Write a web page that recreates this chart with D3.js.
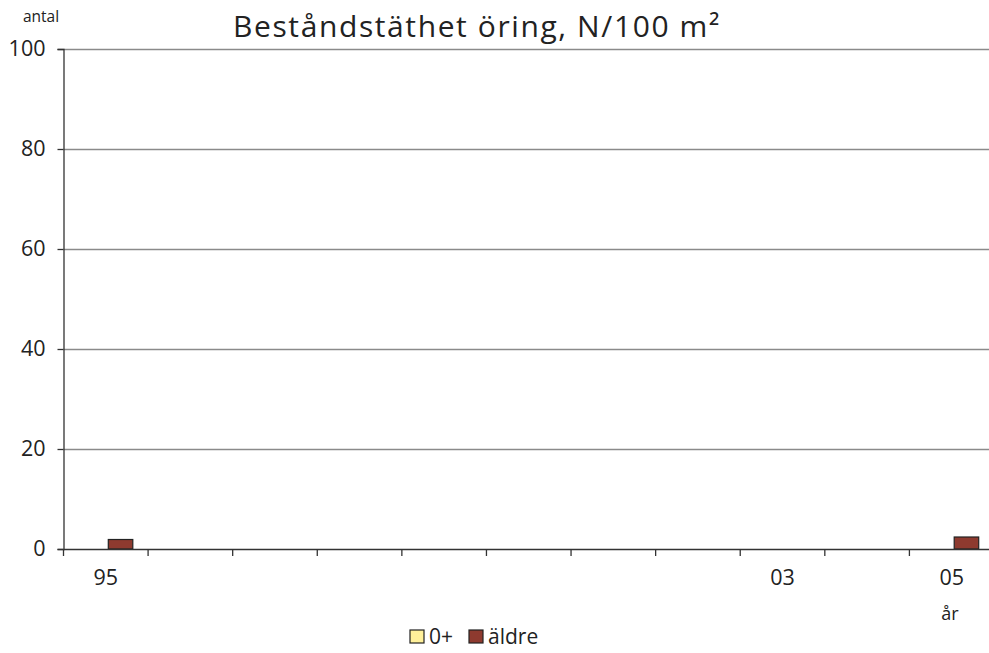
<!DOCTYPE html>
<html>
<head>
<meta charset="utf-8">
<script src="https://cdn.jsdelivr.net/npm/d3@7"></script>
<style>
  body { margin: 0; background: #fff; }
  svg { display: block; }
  svg text { font-family: "Open Sans", "DejaVu Sans", sans-serif; }
</style>
</head>
<body>
<div id="chart"></div>
<script>
// data
const years = ['1995', '1996', '1997', '1998', '1999', '2000', '2001', '2002', '2003', '2004', '2005'];
const yearLabels = ['95', '', '', '', '', '', '', '', '03', '', '05'];
const seriesNames = ['0+', 'äldre'];
const seriesColors = ['#fff09a', '#8e3a2f'];
const youngValues = [0, null, null, null, null, null, null, null, 0, null, 0];
const olderValues = [1.9, null, null, null, null, null, null, null, 0, null, 2.4];
const yTicks = [0, 20, 40, 60, 80, 100];

const width = 989, height = 653;
const plotLeft = 63.5, plotRight = 994, plotTop = 49, plotBottom = 549;
const textColor = '#222';

const svg = d3.select('#chart').append('svg')
    .attr('width', width)
    .attr('height', height);

const x = d3.scaleBand().domain(years).range([plotLeft, plotRight]).padding(0);
const y = d3.scaleLinear().domain([0, 100]).range([plotBottom, plotTop]);
const barW = 24.5;
const barShift = 2.5;

// grid
svg.append('g')
   .selectAll('line')
   .data(yTicks.filter(d => d > 0))
   .enter()
   .append('line')
   .attr('x1', plotLeft).attr('x2', plotRight)
   .attr('y1', d => y(d) + 0.5).attr('y2', d => y(d) + 0.5)
   .attr('stroke', '#8a8a8a')
   .attr('stroke-width', 1.3);

// bars
const rows = years.map((yr, i) => ({ year: yr, vals: [youngValues[i], olderValues[i]] }));
rows.forEach(r => {
    r.vals.forEach((v, j) => {
        if (v == null || v <= 0) return;
        const cx = x(r.year) + x.bandwidth() / 2 + barShift;
        svg.append('rect')
           .attr('x', cx - barW + j * barW)
           .attr('y', y(v))
           .attr('width', barW)
           .attr('height', y(0) - y(v))
           .attr('fill', seriesColors[j])
           .attr('stroke', '#222')
           .attr('stroke-width', 1.2);
    });
});

// axes
const yAxis = d3.axisLeft(y).tickValues(yTicks).tickSize(6).tickPadding(12);
const gy = svg.append('g')
    .attr('transform', `translate(${plotLeft},0)`)
    .call(yAxis)
    .attr('font-family', null);
gy.select('.domain').attr('stroke', '#333').attr('stroke-width', 1.3);
gy.selectAll('.tick line').attr('stroke', '#333').attr('stroke-width', 1.3);
gy.selectAll('text').attr('font-size', 21.5).attr('fill', textColor);

const xAxis = d3.axisBottom(x)
    .tickValues(years)
    .tickFormat((d, i) => yearLabels[i])
    .tickSize(0)
    .tickPadding(21);
const gx = svg.append('g')
    .attr('transform', `translate(0,${plotBottom})`)
    .call(xAxis)
    .attr('font-family', null);
gx.select('.domain').attr('stroke', '#333').attr('stroke-width', 1.3);
gx.selectAll('text').attr('font-size', 21.5).attr('fill', textColor);

// x ticks at category boundaries
svg.append('g')
   .selectAll('line')
   .data(years)
   .enter()
   .append('line')
   .attr('x1', d => x(d)).attr('x2', d => x(d))
   .attr('y1', plotBottom).attr('y2', plotBottom + 7)
   .attr('stroke', '#333')
   .attr('stroke-width', 1.3);

// title and axis labels
svg.append('text')
   .attr('x', 477).attr('y', 37)
   .attr('text-anchor', 'middle')
   .attr('font-size', 30)
   .attr('letter-spacing', 1.6)
   .attr('fill', textColor)
   .text('Beståndstäthet öring, N/100 m²');

svg.append('text')
   .attr('x', 41).attr('y', 21.5)
   .attr('text-anchor', 'middle')
   .attr('font-size', 15.5)
   .attr('fill', textColor)
   .text('antal');

svg.append('text')
   .attr('x', 950).attr('y', 620)
   .attr('text-anchor', 'middle')
   .attr('font-size', 18)
   .attr('fill', textColor)
   .text('år');

// legend
const legend = svg.append('g').attr('transform', 'translate(410,630)');
const legendX = [0, 59];
seriesNames.forEach((name, i) => {
    const g = legend.append('g').attr('transform', `translate(${legendX[i]},0)`);
    g.append('rect')
     .attr('width', 14).attr('height', 13)
     .attr('fill', seriesColors[i])
     .attr('stroke', '#222')
     .attr('stroke-width', 1.2);
    g.append('text')
     .attr('x', 19).attr('y', 13.5)
     .attr('font-size', 21)
     .attr('fill', textColor)
     .text(name);
});
</script>
</body>
</html>
